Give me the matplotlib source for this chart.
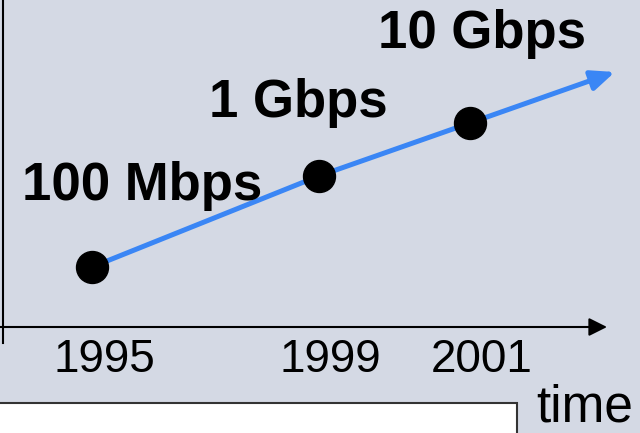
import matplotlib
matplotlib.use("Agg")
import matplotlib.pyplot as plt
import matplotlib.transforms as mtransforms
from matplotlib.patches import Rectangle

plt.rcParams['font.family'] = ['Liberation Sans', 'DejaVu Sans']

# data
year_labels = ['1995', '1999', '2001']
time_pos = [1995.0, 1998.6, 2001.0]     # where the dots sit on the time axis
speed_level = [0.60, 1.51, 2.04]        # height of the dots above the axis
speed_labels = ['100 Mbps', '1 Gbps', '10 Gbps']
arrow_end = (2003.3, 2.55)

bg = '#d4d9e4'
blue = '#3a86f5'

fig = plt.figure(figsize=(6.4, 4.33), dpi=100)
fig.patch.set_facecolor(bg)
ax = fig.add_axes([0, 0, 1, 1])
ax.set_facecolor(bg)
ax.set_xlim(1993.54, 1993.54 + 640 / 63)
ax.set_ylim(-1.06, 3.27)

for s in ['top', 'right', 'left']:
    ax.spines[s].set_visible(False)
ax.spines['bottom'].set_position(('data', 0))
ax.spines['bottom'].set_visible(False)
ax.set_yticks([])

# time axis with arrow head
ax.annotate('', xy=(607 / 640, 0), xycoords=('axes fraction', 'data'),
            xytext=(0, 0), textcoords=('axes fraction', 'data'),
            arrowprops=dict(arrowstyle='-|>,head_length=1.1,head_width=0.55',
                            color='black', lw=1.5, shrinkA=0, shrinkB=0))
# vertical axis
ax.plot([3 / 640, 3 / 640], [1 - 343 / 433, 1], color='black', lw=1.5,
        transform=ax.transAxes, clip_on=False)

# trend line and arrow
ax.plot(time_pos, speed_level, color=blue, lw=3.6, zorder=3)
ax.annotate('', xy=arrow_end, xytext=(time_pos[-1], speed_level[-1]),
            arrowprops=dict(arrowstyle='-|>,head_length=1.4,head_width=0.6',
                            color=blue, lw=3.6, shrinkA=0, shrinkB=0), zorder=3)
ax.plot(time_pos, speed_level, 'o', color='black', markersize=23, zorder=4)

# speed labels
offsets = [(50, 67), (-20, 59), (12, 75)]
for x, y, lab, off in zip(time_pos, speed_level, speed_labels, offsets):
    ax.annotate(lab, (x, y), xytext=off, textcoords='offset pixels',
                ha='center', va='baseline', fontsize=38, fontweight='bold')

# year tick labels
ax.set_xticks(time_pos, year_labels)
ax.tick_params(axis='x', length=0, pad=8, labelsize=33)
shift = mtransforms.ScaledTranslation(12 / 100, 0, fig.dpi_scale_trans)
for lab in ax.get_xticklabels():
    lab.set_transform(lab.get_transform() + shift)

fig.text(536 / 640, 0.0, 'time', fontsize=37, ha='left', va='bottom')

fig.patches.append(Rectangle((-0.01, -0.01), 517 / 640 + 0.01, 30 / 433 + 0.01,
                             transform=fig.transFigure, facecolor='white',
                             edgecolor='#333333', lw=1.5, zorder=5))

fig.savefig('out.png', dpi=100, facecolor=bg)
